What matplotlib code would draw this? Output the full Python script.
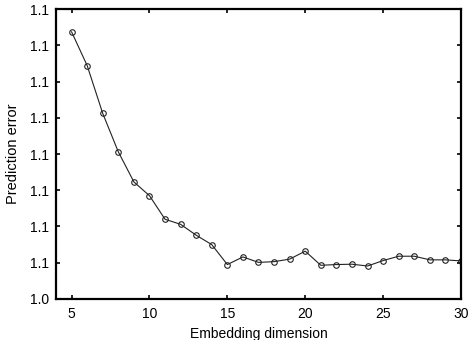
import numpy as np
import matplotlib
matplotlib.use("Agg")
import matplotlib.pyplot as plt

plt.rcParams['font.family'] = ['Liberation Sans', 'DejaVu Sans']

# embedding dimension vs prediction error
dims = np.arange(5, 31)
errors = [1.1237, 1.1144, 1.1012, 1.0906, 1.0823, 1.0785, 1.0720, 1.0706,
          1.0676, 1.0650, 1.0595, 1.0616, 1.0601, 1.0603, 1.0610, 1.0632,
          1.0593, 1.0595, 1.0596, 1.0591, 1.0606, 1.0618, 1.0618, 1.0608,
          1.0608, 1.0605]

yticks = [1.05 + 0.01 * k for k in range(9)]
ytick_labels = ["1.0"] + ["1.1"] * 8
xticks = [5, 10, 15, 20, 25, 30]

fig = plt.figure(figsize=(4.73, 3.40), dpi=100)
ax = fig.add_axes([0.1184, 0.1206, 0.8562, 0.8529])

ax.plot(dims, errors, '-', color='#222222', linewidth=0.8,
        marker='o', markersize=4, markerfacecolor='none',
        markeredgecolor='#222222', markeredgewidth=0.8)

ax.set_xlim(4, 30)
ax.set_ylim(1.05, 1.13)
ax.set_xticks(xticks)
ax.set_yticks(yticks)
ax.set_yticklabels(ytick_labels)

for s in ax.spines.values():
    s.set_linewidth(1.6)
    s.set_color('black')

ax.tick_params(axis='both', which='both', direction='in', length=3,
               width=1.2, top=True, right=True, labelsize=10)
ax.tick_params(axis='x', pad=6)
ax.tick_params(axis='y', pad=5)

ax.set_xlabel("Embedding dimension", fontsize=10, labelpad=4)
ax.set_ylabel("Prediction error", fontsize=10.5, labelpad=7)

fig.savefig("out.png", dpi=100)
